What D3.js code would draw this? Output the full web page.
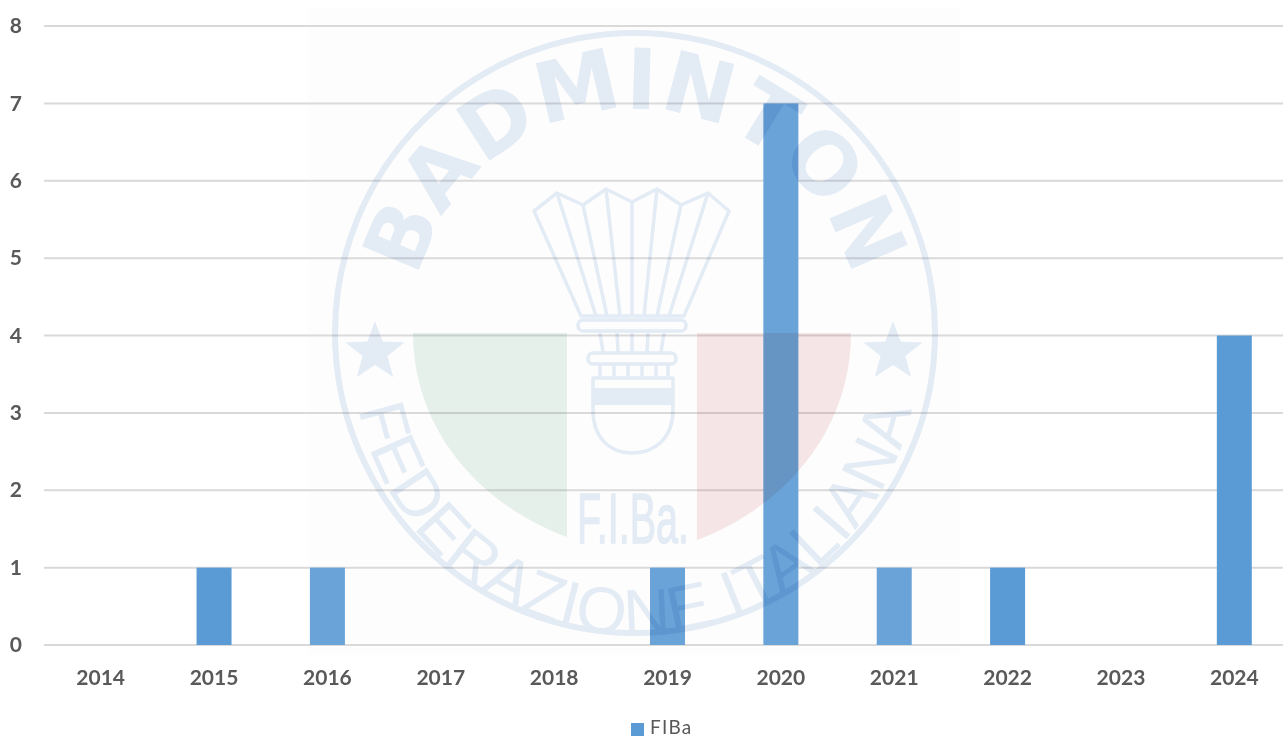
<!DOCTYPE html>
<html><head><meta charset="utf-8">
<script src="https://cdn.jsdelivr.net/npm/d3@7/dist/d3.min.js"></script>
<style>html,body{margin:0;padding:0;background:#fff;overflow:hidden}svg{display:block}</style>
</head><body><svg id="c" width="1283" height="738"></svg>
<script>
const years = ["2014","2015","2016","2017","2018","2019","2020","2021","2022","2023","2024"];
const fiba = [0,1,1,0,0,1,7,1,1,0,4];
const yTicks = [0,1,2,3,4,5,6,7,8];
const seriesName = "FIBa";

const svg = d3.select("#c");
const font = "Lato, 'Open Sans', sans-serif";
const x = d3.scaleBand().domain(years).range([44,1291]);
const y = d3.scaleLinear().domain([0,8]).range([645,26]);
const barW = 35;

// gridlines
svg.append("g").selectAll("line").data(yTicks).join("line")
  .attr("x1",44).attr("x2",1283).attr("y1",d=>y(d)).attr("y2",d=>y(d))
  .attr("stroke","#d9d9d9").attr("stroke-width",2);

// bars
svg.append("g").selectAll("rect").data(years).join("rect")
  .attr("x",d=>x(d)+x.bandwidth()/2-barW/2)
  .attr("width",barW)
  .attr("y",(d,i)=>y(fiba[i]))
  .attr("height",(d,i)=>y(0)-y(fiba[i]))
  .attr("fill","#5b9bd5");

// axes
const ax = svg.append("g").attr("transform","translate(0,677)")
  .call(d3.axisBottom(x).tickSize(0).tickPadding(0));
ax.select(".domain").remove();
ax.selectAll("text").attr("dy","0.36em").attr("y",0)
  .attr("font-family",font).attr("font-weight",700).attr("font-size",21).attr("fill","#595959");
const ay = svg.append("g").attr("transform","translate(22,0)")
  .call(d3.axisLeft(y).tickValues(yTicks).tickFormat(d3.format("d")).tickSize(0).tickPadding(0));
ay.select(".domain").remove();
ay.selectAll("text")
  .attr("font-family",font).attr("font-weight",700).attr("font-size",21).attr("fill","#595959");

// legend
svg.append("rect").attr("x",631).attr("y",723).attr("width",13).attr("height",13).attr("fill","#5b9bd5");
svg.append("text").attr("x",650).attr("y",734).text(seriesName)
  .attr("font-family",font).attr("font-size",19).attr("letter-spacing",1.2).attr("fill","#595959");

// watermark overlay
const defs = svg.append("defs");
defs.append("filter").attr("id","soft").append("feGaussianBlur").attr("stdDeviation",0.6);
const cx=635, cy=333;
const arc=(r,a0,a1,sweep)=>{
  const p=a=>[cx+r*Math.cos(a*Math.PI/180),cy+r*Math.sin(a*Math.PI/180)];
  const [x0,y0]=p(a0),[x1,y1]=p(a1);
  return `M${x0},${y0}A${r},${r} 0 1 ${sweep} ${x1},${y1}`;
};
defs.append("path").attr("id","topArc").attr("d",arc(224,175,5,1));
defs.append("path").attr("id","botArc").attr("d",arc(282,178,2,0));

svg.append("rect").attr("x",308).attr("y",8).attr("width",652).attr("height",647)
  .attr("fill","#ebebeb").attr("opacity",0.1);

const blue="#e5edf7";
const w = svg.append("g").style("mix-blend-mode","multiply").attr("filter","url(#soft)");
w.append("circle").attr("cx",cx).attr("cy",cy).attr("r",300).attr("fill","none").attr("stroke",blue).attr("stroke-width",6);

// flag
w.append("path").attr("d","M413,333H567V537C480,505 413,430 413,333Z").attr("fill","#e8f2ed");
w.append("path").attr("d","M697,333H851C851,430 785,507 697,540Z").attr("fill","#f7e7e8");

// lettering
w.append("text").attr("font-family","'DejaVu Sans',sans-serif").attr("font-weight",700).attr("font-size",84)
  .attr("fill",blue).attr("letter-spacing",1)
  .append("textPath").attr("href","#topArc").attr("startOffset","50%").attr("text-anchor","middle").text("BADMINTON");
w.append("text").attr("font-family","'Liberation Sans Narrow','Liberation Sans',sans-serif").attr("font-size",65)
  .attr("fill",blue).attr("letter-spacing",0.4)
  .append("textPath").attr("href","#botArc").attr("startOffset","50%").attr("text-anchor","middle").text("FEDERAZIONE ITALIANA");
w.append("text").attr("x",577).attr("y",543).attr("font-family","'Liberation Sans Narrow','Liberation Sans',sans-serif")
  .attr("font-size",70).attr("fill",blue).attr("stroke",blue).attr("stroke-width",1.5)
  .attr("textLength",112).attr("lengthAdjust","spacingAndGlyphs").text("F.I.Ba.");

// stars
const star=(sx,sy,R)=>d3.range(10).map(i=>{const r=i%2?R*0.42:R,a=-Math.PI/2+i*Math.PI/5;return [sx+r*Math.cos(a),sy+r*Math.sin(a)].join(",")}).join(" ");
w.append("polygon").attr("points",star(375,352,31)).attr("fill",blue);
w.append("polygon").attr("points",star(893,352,31)).attr("fill",blue);

// shuttlecock
const line={fill:"none",stroke:blue,"stroke-width":3.5,"stroke-linejoin":"round"};
const sty=s=>{Object.entries(line).forEach(([k,v])=>s.attr(k,v));return s;};
sty(w.append("path")).attr("d","M534,211L557,193L583,205L606,189L632,202L657,189L681,205L708,193L729,211L684,316H581Z");
const feathers=[
 "M557,193L596,316","M583,205L607,316","M606,189L620,316",
 "M632,202V316","M657,189L644,316","M681,205L657,316","M708,193L669,316"];
sty(w.append("g").selectAll("path").data(feathers).join("path")).attr("d",d=>d);
sty(w.append("rect")).attr("x",578).attr("y",320).attr("width",108).attr("height",11).attr("rx",5);
const strut=["M600,333L603,352","M617,333L618,352","M632,333V352","M648,333L647,352","M664,333L661,352"];
sty(w.append("g").selectAll("path").data(strut).join("path")).attr("d",d=>d);
sty(w.append("rect")).attr("x",588).attr("y",353).attr("width",88).attr("height",11).attr("rx",5);
sty(w.append("path")).attr("d","M600,365V376M614,365V376M628,365V376M642,365V376M656,365V376M668,365V376");
sty(w.append("path")).attr("d","M593,378H673V410C673,438 655,453 632,453C610,453 593,438 593,410Z");
w.append("rect").attr("x",593).attr("y",388).attr("width",80).attr("height",17).attr("fill",blue);
</script></body></html>
